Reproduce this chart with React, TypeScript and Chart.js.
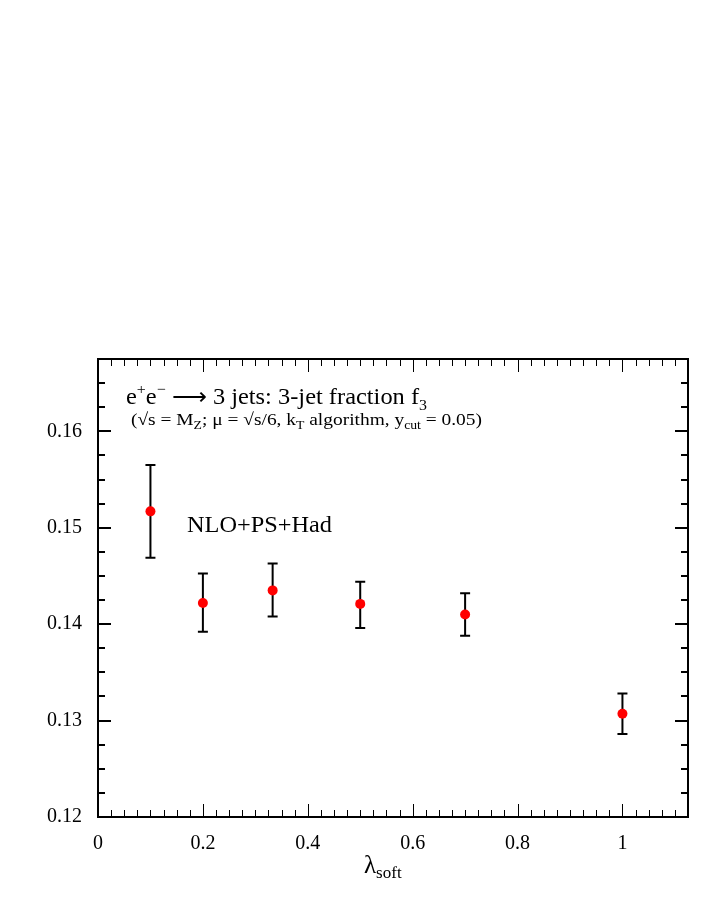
import React, { useEffect, useRef } from "react";
import { Chart, registerables } from "chart.js";

Chart.register(...registerables);

const X_VALUES = [0.1, 0.2, 0.333, 0.5, 0.7, 1.0];
const Y_VALUES = [0.1517, 0.1422, 0.1435, 0.1421, 0.1410, 0.1307];
const Y_HIGH = [0.1565, 0.14525, 0.1463, 0.1444, 0.1432, 0.1328];
const Y_LOW = [0.1469, 0.1392, 0.1408, 0.1396, 0.1388, 0.1286];

const X_TICKS = [0, 0.2, 0.4, 0.6, 0.8, 1.0];
const X_TICK_LABELS = ["0", "0.2", "0.4", "0.6", "0.8", "1"];
const Y_TICKS = [0.12, 0.13, 0.14, 0.15, 0.16];
const Y_TICK_LABELS = ["0.12", "0.13", "0.14", "0.15", "0.16"];

const X_MIN = 0;
const X_MAX = 1.125;
const Y_MIN = 0.12;
const Y_MAX = 0.1675;
const X_MINOR_STEP = 0.025;
const Y_MINOR_STEP = 0.0025;

const SERIF = '"Liberation Serif", "Times New Roman", serif';

type Part = [string, number, number];

function drawRich(
  ctx: CanvasRenderingContext2D,
  x: number,
  y: number,
  parts: Part[],
  targetWidth?: number
) {
  let natural = 0;
  for (const [t, size] of parts) {
    ctx.font = `${size}px ${SERIF}`;
    natural += ctx.measureText(t).width;
  }
  const sx = targetWidth ? targetWidth / natural : 1;
  ctx.save();
  ctx.translate(x, y);
  ctx.scale(sx, 1);
  let cx = 0;
  for (const [t, size, dy] of parts) {
    ctx.font = `${size}px ${SERIF}`;
    ctx.fillText(t, cx, dy);
    cx += ctx.measureText(t).width;
  }
  ctx.restore();
}

const overlay = {
  id: "overlay",
  beforeDatasetsDraw(chart: any) {
    const ctx: CanvasRenderingContext2D = chart.ctx;
    const xs = chart.scales.x;
    const ys = chart.scales.y;
    ctx.save();
    ctx.strokeStyle = "#000";
    ctx.lineWidth = 2;
    for (let i = 0; i < X_VALUES.length; i++) {
      const px = xs.getPixelForValue(X_VALUES[i]);
      const pTop = ys.getPixelForValue(Y_HIGH[i]);
      const pBot = ys.getPixelForValue(Y_LOW[i]);
      ctx.beginPath();
      ctx.moveTo(px, pTop);
      ctx.lineTo(px, pBot);
      ctx.moveTo(px - 5, pTop);
      ctx.lineTo(px + 5, pTop);
      ctx.moveTo(px - 5, pBot);
      ctx.lineTo(px + 5, pBot);
      ctx.stroke();
    }
    ctx.restore();
  },
  afterDraw(chart: any) {
    const ctx: CanvasRenderingContext2D = chart.ctx;
    const a = chart.chartArea;
    const xs = chart.scales.x;
    const ys = chart.scales.y;
    ctx.save();
    ctx.strokeStyle = "#000";

    // x ticks (bottom and top)
    ctx.lineWidth = 1;
    const nX = Math.round((X_MAX - X_MIN) / X_MINOR_STEP);
    for (let k = 1; k < nX; k++) {
      const v = X_MIN + k * X_MINOR_STEP;
      const major = k % 8 === 0;
      const len = major ? 13 : 7;
      const px = Math.round(xs.getPixelForValue(v)) + 0.5;
      ctx.beginPath();
      ctx.moveTo(px, a.bottom);
      ctx.lineTo(px, a.bottom - len);
      ctx.moveTo(px, a.top);
      ctx.lineTo(px, a.top + len);
      ctx.stroke();
    }

    // y ticks (left and right)
    ctx.lineWidth = 2;
    const nY = Math.round((Y_MAX - Y_MIN) / Y_MINOR_STEP);
    for (let k = 1; k < nY; k++) {
      const v = Y_MIN + k * Y_MINOR_STEP;
      const major = k % 4 === 0;
      const len = major ? 13 : 7;
      const py = Math.round(ys.getPixelForValue(v));
      ctx.beginPath();
      ctx.moveTo(a.left, py);
      ctx.lineTo(a.left + len, py);
      ctx.moveTo(a.right, py);
      ctx.lineTo(a.right - len, py);
      ctx.stroke();
    }

    // frame
    ctx.lineWidth = 2;
    ctx.strokeRect(a.left, a.top, a.right - a.left, a.bottom - a.top);

    // texts
    ctx.fillStyle = "#000";
    ctx.textBaseline = "alphabetic";
    ctx.textAlign = "left";
    drawRich(
      ctx,
      126,
      404,
      [
        ["e", 23, 0],
        ["+", 15, -10],
        ["e", 23, 0],
        ["\u2212", 15, -10],
        [" \u27F6 3 jets: 3-jet fraction f", 23, 0],
        ["3", 15, 6],
      ],
      301
    );
    drawRich(
      ctx,
      131,
      425,
      [
        ["(\u221As = M", 17, 0],
        ["Z", 12, 4],
        ["; \u03BC = \u221As/6, k", 17, 0],
        ["T", 12, 4],
        [" algorithm, y", 17, 0],
        ["cut", 12, 4],
        [" = 0.05)", 17, 0],
      ],
      351
    );
    drawRich(ctx, 187, 532, [["NLO+PS+Had", 24, 0]], 145);

    // x axis title
    drawRich(ctx, 364, 873, [
      ["\u03BB", 25, 0],
      ["soft", 17, 5],
    ]);
    ctx.restore();
  },
};

export default function App() {
  const ref = useRef<HTMLCanvasElement | null>(null);
  useEffect(() => {
    if (!ref.current) return;
    const chart = new Chart(ref.current, {
      type: "scatter",
      data: {
        datasets: [
          {
            data: X_VALUES.map((x, i) => ({ x, y: Y_VALUES[i] })),
            backgroundColor: "#ff0000",
            borderWidth: 0,
            pointRadius: 5,
            pointStyle: "circle",
          },
        ],
      },
      options: {
        responsive: false,
        animation: false,
        events: [],
        layout: { padding: { top: 359, right: 20, left: 0, bottom: 0 } },
        plugins: { legend: { display: false }, tooltip: { enabled: false } },
        scales: {
          x: {
            type: "linear",
            min: X_MIN,
            max: X_MAX,
            grid: { display: false, drawTicks: false },
            border: { display: false },
            afterBuildTicks: (s: any) => {
              s.ticks = X_TICKS.map((v) => ({ value: v }));
            },
            afterFit: (s: any) => {
              s.height = 100;
            },
            ticks: {
              padding: 15,
              maxRotation: 0,
              color: "#000",
              font: { family: SERIF, size: 20 },
              callback: (v: any) => {
                const i = X_TICKS.findIndex((t) => Math.abs(t - v) < 1e-9);
                return i >= 0 ? X_TICK_LABELS[i] : "";
              },
            },
          },
          y: {
            type: "linear",
            min: Y_MIN,
            max: Y_MAX,
            grid: { display: false, drawTicks: false },
            border: { display: false },
            afterBuildTicks: (s: any) => {
              s.ticks = Y_TICKS.map((v) => ({ value: v }));
            },
            afterFit: (s: any) => {
              s.width = 98;
            },
            ticks: {
              padding: 16,
              color: "#000",
              font: { family: SERIF, size: 20 },
              callback: (v: any) => {
                const i = Y_TICKS.findIndex((t) => Math.abs(t - v) < 1e-9);
                return i >= 0 ? Y_TICK_LABELS[i] : "";
              },
            },
          },
        },
      },
      plugins: [overlay],
    } as any);
    return () => chart.destroy();
  }, []);
  return (
    <div style={{ position: "absolute", left: 0, top: 0, width: 708, height: 917, background: "#fff" }}>
      <canvas ref={ref} width={708} height={917} style={{ display: "block" }} />
    </div>
  );
}
